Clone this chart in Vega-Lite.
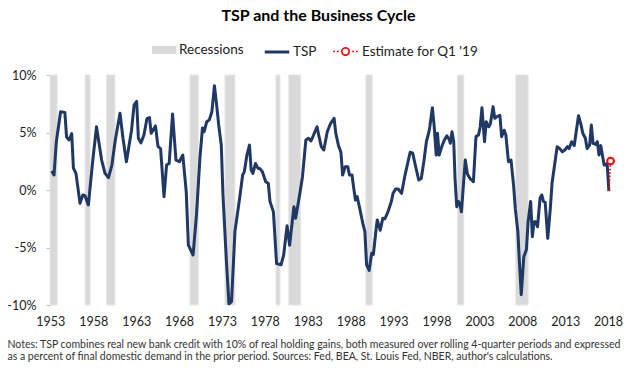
{
  "$schema": "https://vega.github.io/schema/vega-lite/v6.json",
  "width": 561,
  "height": 230,
  "autosize": {"type": "none"},
  "padding": {"left": 50, "top": 75, "right": 26, "bottom": 67},
  "background": "white",
  "title": {"text": "TSP and the Business Cycle", "font": "Lato", "fontSize": 16, "fontWeight": "bold", "color": "#000000", "anchor": "middle", "frame": "group", "dx": -12, "offset": 14},
  "config": {"view": {"stroke": null}, "font": "Lato"},
  "resolve": {"scale": {"color": "independent"}, "legend": {"color": "independent"}},
  "datasets": {
    "recessions": [
      {"start": 1953.56, "end": 1954.4},
      {"start": 1957.67, "end": 1958.25},
      {"start": 1960.19, "end": 1961.16},
      {"start": 1969.94, "end": 1970.91},
      {"start": 1974.03, "end": 1975.2},
      {"start": 1980.0, "end": 1980.46},
      {"start": 1981.5, "end": 1982.88},
      {"start": 1990.52, "end": 1991.26},
      {"start": 2001.24, "end": 2001.98},
      {"start": 2008.06, "end": 2009.5}
    ],
    "tsp": [
      {"year": 1953.76, "value": 1.65}, {"year": 1954.03, "value": 1.3}, {"year": 1954.3, "value": 4.2}, {"year": 1954.8, "value": 6.8},
      {"year": 1955.3, "value": 6.75}, {"year": 1955.5, "value": 4.6}, {"year": 1955.8, "value": 4.35}, {"year": 1956.1, "value": 4.9},
      {"year": 1956.3, "value": 1.9}, {"year": 1956.6, "value": 1.45}, {"year": 1957.07, "value": -1.16}, {"year": 1957.4, "value": -0.43},
      {"year": 1957.65, "value": -0.5}, {"year": 1958.05, "value": -1.3}, {"year": 1958.55, "value": 2.46}, {"year": 1959.0, "value": 5.5},
      {"year": 1959.6, "value": 2.6}, {"year": 1960.0, "value": 1.45}, {"year": 1960.4, "value": 1.07}, {"year": 1960.8, "value": 2.17},
      {"year": 1961.2, "value": 4.35}, {"year": 1961.75, "value": 6.67}, {"year": 1962.1, "value": 4.5}, {"year": 1962.5, "value": 2.46},
      {"year": 1963.1, "value": 5.2}, {"year": 1963.4, "value": 7.4}, {"year": 1963.7, "value": 7.7}, {"year": 1963.9, "value": 4.5},
      {"year": 1964.2, "value": 4.1}, {"year": 1964.55, "value": 4.78}, {"year": 1964.9, "value": 6.2}, {"year": 1965.2, "value": 6.3},
      {"year": 1965.4, "value": 4.93}, {"year": 1965.9, "value": 5.57}, {"year": 1966.2, "value": 3.77}, {"year": 1966.5, "value": 3.6},
      {"year": 1966.9, "value": -0.58}, {"year": 1967.2, "value": 2.17}, {"year": 1967.5, "value": 2.3}, {"year": 1967.9, "value": 6.6},
      {"year": 1968.3, "value": 2.6}, {"year": 1968.7, "value": 2.46}, {"year": 1969.1, "value": 3.04}, {"year": 1969.5, "value": -0.14},
      {"year": 1969.75, "value": -4.8}, {"year": 1970.3, "value": -5.65}, {"year": 1970.7, "value": -2.17}, {"year": 1971.1, "value": 2.75},
      {"year": 1971.4, "value": 5.4}, {"year": 1971.6, "value": 5.07}, {"year": 1971.9, "value": 5.94}, {"year": 1972.2, "value": 6.1},
      {"year": 1972.5, "value": 6.8}, {"year": 1972.8, "value": 9.07}, {"year": 1973.1, "value": 7.1}, {"year": 1973.3, "value": 5.65},
      {"year": 1973.6, "value": 3.9}, {"year": 1973.8, "value": -0.43}, {"year": 1974.2, "value": -6.2}, {"year": 1974.5, "value": -9.9},
      {"year": 1974.8, "value": -9.7}, {"year": 1975.2, "value": -3.6}, {"year": 1975.8, "value": -0.43}, {"year": 1976.1, "value": 1.3},
      {"year": 1976.3, "value": 1.6}, {"year": 1976.6, "value": 3.04}, {"year": 1976.9, "value": 3.9}, {"year": 1977.1, "value": 1.74},
      {"year": 1977.3, "value": 1.45}, {"year": 1977.6, "value": 2.3}, {"year": 1977.9, "value": 1.88}, {"year": 1978.1, "value": 1.88},
      {"year": 1978.4, "value": 1.6}, {"year": 1978.8, "value": 0.72}, {"year": 1979.1, "value": 0.58}, {"year": 1979.3, "value": -1.0},
      {"year": 1979.7, "value": -1.9}, {"year": 1980.07, "value": -6.4}, {"year": 1980.6, "value": -6.5}, {"year": 1980.9, "value": -5.65},
      {"year": 1981.3, "value": -3.1}, {"year": 1981.6, "value": -4.8}, {"year": 1982.1, "value": -1.45}, {"year": 1982.3, "value": -2.46},
      {"year": 1982.8, "value": -0.29}, {"year": 1983.1, "value": 1.16}, {"year": 1983.5, "value": 4.35}, {"year": 1983.8, "value": 4.5},
      {"year": 1984.1, "value": 4.26}, {"year": 1984.4, "value": 4.78}, {"year": 1984.8, "value": 5.5}, {"year": 1985.0, "value": 4.78},
      {"year": 1985.3, "value": 3.77}, {"year": 1985.6, "value": 3.48}, {"year": 1986.0, "value": 5.07}, {"year": 1986.4, "value": 5.8},
      {"year": 1986.8, "value": 6.23}, {"year": 1987.0, "value": 4.93}, {"year": 1987.3, "value": 3.9}, {"year": 1987.6, "value": 3.28},
      {"year": 1987.8, "value": 1.3}, {"year": 1988.1, "value": 2.03}, {"year": 1988.4, "value": 2.03}, {"year": 1988.6, "value": 1.3},
      {"year": 1988.9, "value": 1.3}, {"year": 1989.1, "value": 0.14}, {"year": 1989.3, "value": -0.87}, {"year": 1989.5, "value": -0.58},
      {"year": 1989.8, "value": -1.6}, {"year": 1990.2, "value": -3.04}, {"year": 1990.4, "value": -3.6}, {"year": 1990.6, "value": -6.5},
      {"year": 1990.9, "value": -7.0}, {"year": 1991.2, "value": -5.5}, {"year": 1991.4, "value": -5.6}, {"year": 1991.7, "value": -3.5},
      {"year": 1991.85, "value": -2.6}, {"year": 1992.2, "value": -3.5}, {"year": 1992.5, "value": -2.46}, {"year": 1992.75, "value": -2.5},
      {"year": 1993.1, "value": -1.9}, {"year": 1993.5, "value": -1.0}, {"year": 1993.7, "value": -0.29}, {"year": 1994.0, "value": 0.09},
      {"year": 1994.3, "value": 0.09}, {"year": 1994.7, "value": -0.29}, {"year": 1995.1, "value": 1.3}, {"year": 1995.4, "value": 2.3},
      {"year": 1995.7, "value": 3.28}, {"year": 1996.0, "value": 3.2}, {"year": 1996.3, "value": 2.17}, {"year": 1996.7, "value": 0.87},
      {"year": 1997.0, "value": 1.0}, {"year": 1997.3, "value": 2.46}, {"year": 1997.6, "value": 4.2}, {"year": 1997.9, "value": 5.07},
      {"year": 1998.0, "value": 5.5}, {"year": 1998.3, "value": 7.16}, {"year": 1998.5, "value": 5.65}, {"year": 1998.75, "value": 3.04},
      {"year": 1998.9, "value": 4.93}, {"year": 1999.1, "value": 3.04}, {"year": 1999.4, "value": 3.77}, {"year": 1999.7, "value": 4.35},
      {"year": 2000.0, "value": 4.72}, {"year": 2000.3, "value": 4.35}, {"year": 2000.4, "value": 4.06}, {"year": 2000.6, "value": 5.07},
      {"year": 2000.8, "value": 4.2}, {"year": 2000.95, "value": 1.0}, {"year": 2001.15, "value": -1.45}, {"year": 2001.35, "value": -1.0},
      {"year": 2001.5, "value": -1.16}, {"year": 2001.7, "value": -1.9}, {"year": 2001.9, "value": 0.14}, {"year": 2002.15, "value": 2.6},
      {"year": 2002.4, "value": 1.4}, {"year": 2002.7, "value": 1.0}, {"year": 2003.1, "value": 0.72}, {"year": 2003.4, "value": 4.64},
      {"year": 2003.7, "value": 4.78}, {"year": 2003.9, "value": 5.5}, {"year": 2004.1, "value": 7.16}, {"year": 2004.4, "value": 4.2},
      {"year": 2004.6, "value": 5.94}, {"year": 2004.9, "value": 5.5}, {"year": 2005.1, "value": 5.8}, {"year": 2005.4, "value": 7.25},
      {"year": 2005.6, "value": 6.23}, {"year": 2005.9, "value": 6.4}, {"year": 2006.2, "value": 6.5}, {"year": 2006.4, "value": 4.64},
      {"year": 2006.7, "value": 5.2}, {"year": 2006.9, "value": 4.78}, {"year": 2007.2, "value": 2.46}, {"year": 2007.5, "value": 2.6},
      {"year": 2007.8, "value": 0.43}, {"year": 2008.0, "value": -1.6}, {"year": 2008.3, "value": -3.6}, {"year": 2008.5, "value": -6.5},
      {"year": 2008.7, "value": -9.1}, {"year": 2009.0, "value": -5.8}, {"year": 2009.3, "value": -5.2}, {"year": 2009.5, "value": -2.75},
      {"year": 2009.8, "value": -1.0}, {"year": 2010.0, "value": -4.06}, {"year": 2010.2, "value": -2.75}, {"year": 2010.4, "value": -2.75},
      {"year": 2010.6, "value": -3.2}, {"year": 2010.9, "value": -0.72}, {"year": 2011.1, "value": -0.43}, {"year": 2011.3, "value": -1.0},
      {"year": 2011.5, "value": -1.07}, {"year": 2011.8, "value": -4.2}, {"year": 2012.1, "value": -1.6}, {"year": 2012.3, "value": 0.58},
      {"year": 2012.6, "value": 2.17}, {"year": 2012.9, "value": 3.77}, {"year": 2013.2, "value": 3.6}, {"year": 2013.5, "value": 3.33},
      {"year": 2013.8, "value": 3.48}, {"year": 2014.1, "value": 3.77}, {"year": 2014.3, "value": 3.6}, {"year": 2014.6, "value": 4.2},
      {"year": 2014.9, "value": 3.86}, {"year": 2015.1, "value": 4.93}, {"year": 2015.4, "value": 6.46}, {"year": 2015.7, "value": 5.65},
      {"year": 2015.9, "value": 4.93}, {"year": 2016.2, "value": 4.5}, {"year": 2016.4, "value": 3.6}, {"year": 2016.7, "value": 3.9},
      {"year": 2016.9, "value": 5.65}, {"year": 2017.1, "value": 4.06}, {"year": 2017.4, "value": 3.97}, {"year": 2017.6, "value": 4.2},
      {"year": 2017.8, "value": 3.04}, {"year": 2018.0, "value": 3.86}, {"year": 2018.4, "value": 2.17}, {"year": 2018.6, "value": 2.17},
      {"year": 2018.75, "value": 2.3}, {"year": 2018.95, "value": -0.1}
    ],
    "estimate": [
      {"year": 2018.95, "value": -0.1},
      {"year": 2019.15, "value": 2.52}
    ]
  },
  "encoding": {
    "x": {
      "type": "quantitative",
      "scale": {"domain": [1953.56, 2019.2], "nice": false, "zero": false},
      "axis": {
        "values": [1953.6, 1958.62, 1963.64, 1968.66, 1973.68, 1978.7, 1983.72, 1988.74, 1993.76, 1998.78, 2003.8, 2008.82, 2013.84, 2018.86],
        "labelExpr": "'' + floor(datum.value)",
        "domain": false, "ticks": false, "tickSize": 0, "grid": false,
        "labelFont": "Lato", "labelFontSize": 12.5, "labelColor": "#222222", "labelPadding": 10,
        "labelFlush": false, "labelOverlap": false,
        "title": ["Notes: TSP combines real new bank credit with 10% of real holding gains, both measured over rolling 4-quarter periods and expressed", "as a percent of final domestic demand in the prior period. Sources: Fed, BEA, St. Louis Fed, NBER, author's calculations."],
        "titleFont": "Lato", "titleFontSize": 10.5, "titleFontWeight": "normal", "titleColor": "#333333",
        "titleAnchor": "start", "titleAlign": "left", "titleBaseline": "alphabetic",
        "titleX": -43, "titleY": 42, "titleLineHeight": 12.7
      }
    },
    "y": {
      "type": "quantitative",
      "scale": {"domain": [-10, 10], "nice": false},
      "axis": {
        "values": [-10, -5, 0, 5, 10],
        "labelExpr": "datum.value + '%'",
        "domain": true, "domainColor": "#bfbfbf", "ticks": true, "tickColor": "#bfbfbf", "tickSize": 4,
        "grid": false, "title": null,
        "labelFont": "Lato", "labelFontSize": 12.5, "labelColor": "#222222", "labelPadding": 10
      }
    }
  },
  "layer": [
    {
      "data": {"name": "recessions"},
      "mark": {"type": "rect", "stroke": "#e6e6e6", "strokeWidth": 1},
      "encoding": {
        "x": {"field": "start", "type": "quantitative"},
        "x2": {"field": "end"},
        "color": {
          "datum": "Recessions",
          "scale": {"domain": ["Recessions"], "range": ["#d9d9d9"]},
          "legend": {
            "orient": "none", "legendX": 102, "legendY": -37, "title": null,
            "symbolSize": 576, "symbolType": "M-1,-0.33H1V0.33H-1Z",
            "symbolFillColor": "#d9d9d9", "symbolStrokeColor": "#d9d9d9", "symbolStrokeWidth": 0,
            "labelFont": "Lato", "labelFontSize": 13.5, "labelColor": "#222222", "labelOffset": 3
          }
        }
      }
    },
    {
      "mark": {"type": "rule", "color": "#bfbfbf", "strokeWidth": 1},
      "encoding": {"y": {"datum": 0}}
    },
    {
      "data": {"name": "tsp"},
      "mark": {"type": "line", "strokeWidth": 3, "strokeJoin": "round"},
      "encoding": {
        "x": {"field": "year", "type": "quantitative"},
        "y": {"field": "value", "type": "quantitative"},
        "color": {
          "datum": "TSP",
          "scale": {"domain": ["TSP"], "range": ["#1f3864"]},
          "legend": {
            "orient": "none", "legendX": 213, "legendY": -37, "title": null,
            "symbolSize": 600, "symbolType": "stroke", "symbolStrokeWidth": 3,
            "symbolStrokeColor": "#1f3864",
            "labelFont": "Lato", "labelFontSize": 13.5, "labelColor": "#222222", "labelOffset": 2
          }
        }
      }
    },
    {
      "data": {"name": "estimate"},
      "mark": {"type": "line", "strokeWidth": 1.8, "strokeDash": [1.5, 2], "clip": false},
      "encoding": {
        "x": {"field": "year", "type": "quantitative"},
        "y": {"field": "value", "type": "quantitative"},
        "color": {
          "datum": "Estimate for Q1 '19",
          "scale": {"domain": ["Estimate for Q1 '19"], "range": ["#ff0000"]},
          "legend": {
            "orient": "none", "legendX": 282, "legendY": -37, "title": null,
            "symbolSize": 600,
            "symbolType": "M-1,0H-0.85M-0.7,0H-0.55M0.55,0H0.7M0.85,0H1M0.3,0A0.3,0.3,0,1,1,-0.3,0A0.3,0.3,0,1,1,0.3,0",
            "symbolStrokeWidth": 1.6, "symbolStrokeColor": "#ff0000", "symbolFillColor": "transparent", "symbolDash": [1, 0],
            "labelFont": "Lato", "labelFontSize": 13.5, "labelColor": "#222222", "labelOffset": 3
          }
        }
      }
    },
    {
      "data": {"name": "estimate"},
      "transform": [{"filter": "datum.year > 2019"}],
      "mark": {"type": "point", "shape": "circle", "size": 45, "filled": true, "fill": "white", "stroke": "#ff0000", "strokeWidth": 2, "opacity": 1, "clip": false},
      "encoding": {
        "x": {"field": "year", "type": "quantitative"},
        "y": {"field": "value", "type": "quantitative"}
      }
    }
  ]
}
